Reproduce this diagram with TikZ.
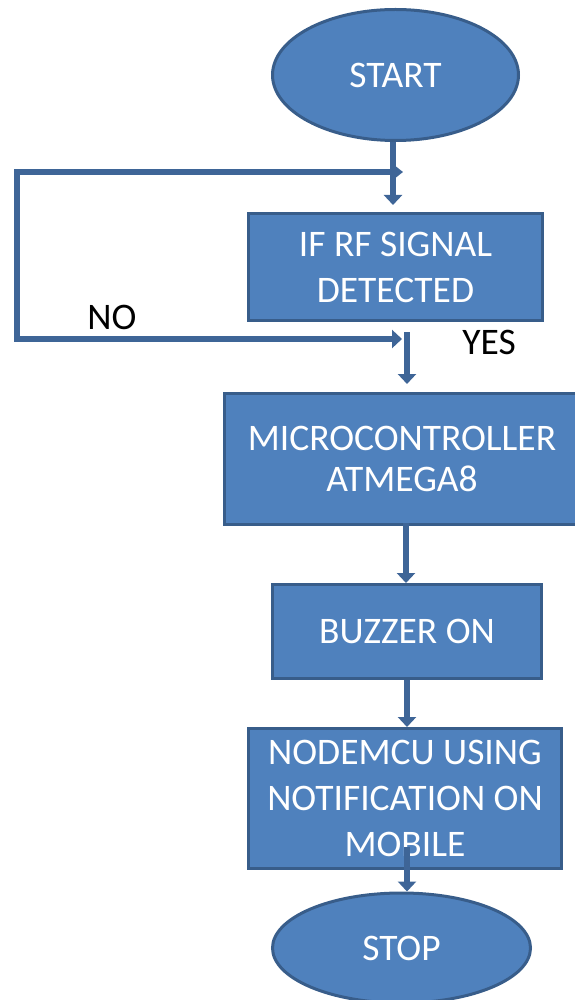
\documentclass[tikz,border=0pt]{standalone}
\usepackage{fontspec}
\setmainfont{Carlito}
\usetikzlibrary{arrows.meta,shapes.geometric}
\definecolor{fillb}{HTML}{4F81BD}
\definecolor{edgeb}{HTML}{385D8A}
\definecolor{lineb}{HTML}{3E6597}
\begin{document}
\begin{tikzpicture}[x=1pt,y=-1pt,
  txt/.style={font=\fontsize{37.5}{46}\selectfont},
  box/.style={txt,draw=edgeb,fill=fillb,line width=3pt,text=white,align=center,inner sep=0pt,rectangle},
  term/.style={txt,draw=edgeb,fill=fillb,line width=3pt,text=white,inner sep=0pt,ellipse},
  conn/.style={draw=lineb,line width=6.5pt},
  bigtip/.style={-{Triangle[width=18pt,length=10pt]}},
  smalltip/.style={-{Triangle[width=12pt,length=8pt]}}
]
\useasboundingbox (0,0) rectangle (574,1000);
\node[term,minimum width=246pt,minimum height=131pt] (start) at (395.5,75) {START};
\node[box,minimum width=294pt,minimum height=107pt] (if) at (395.5,267) {IF RF SIGNAL\\DETECTED};
\node[box,minimum width=355pt,minimum height=131pt] (micro) at (402,459) {MICROCONTROLLER\\[-5pt]ATMEGA8};
\node[box,minimum width=269pt,minimum height=94pt] (buzz) at (407,631.5) {BUZZER ON};
\node[box,minimum width=313pt,minimum height=140pt] (nodemcu) at (405,798.5) {NODEMCU USING\\NOTIFICATION ON\\MOBILE};
\node[term,minimum width=258pt,minimum height=110pt] (stop) at (401.5,948) {STOP};
\node[txt] (no) at (112,317) {NO};
\node[txt] (yes) at (489,342) {YES};
% loop coordinates
\coordinate (tl) at (17,172);
\coordinate (bl) at (17,339);
\coordinate (j1) at (403,172);
\coordinate (j2) at (402,339);
\coordinate (ys) at (407,332);
\coordinate (ms) at (406,523);
\coordinate (ns) at (407,847);
% connectors
\draw[conn,bigtip,shorten >=7pt] (start.south -| 393,0) -- (if.north -| 393,0);
\draw[conn,smalltip] (tl) -- (j1);
\draw[conn,line cap=rect] (tl) -- (bl);
\draw[conn,bigtip] (bl) -- (j2);
\draw[conn,bigtip,shorten >=8pt] (ys) -- (micro.north -| ys);
\draw[conn,bigtip] (ms) -- (buzz.north -| ms);
\draw[conn,bigtip] (buzz.south -| 407,0) -- (nodemcu.north -| 407,0);
\draw[conn,bigtip] (ns) -- (stop.north -| ns);
\end{tikzpicture}
\end{document}
